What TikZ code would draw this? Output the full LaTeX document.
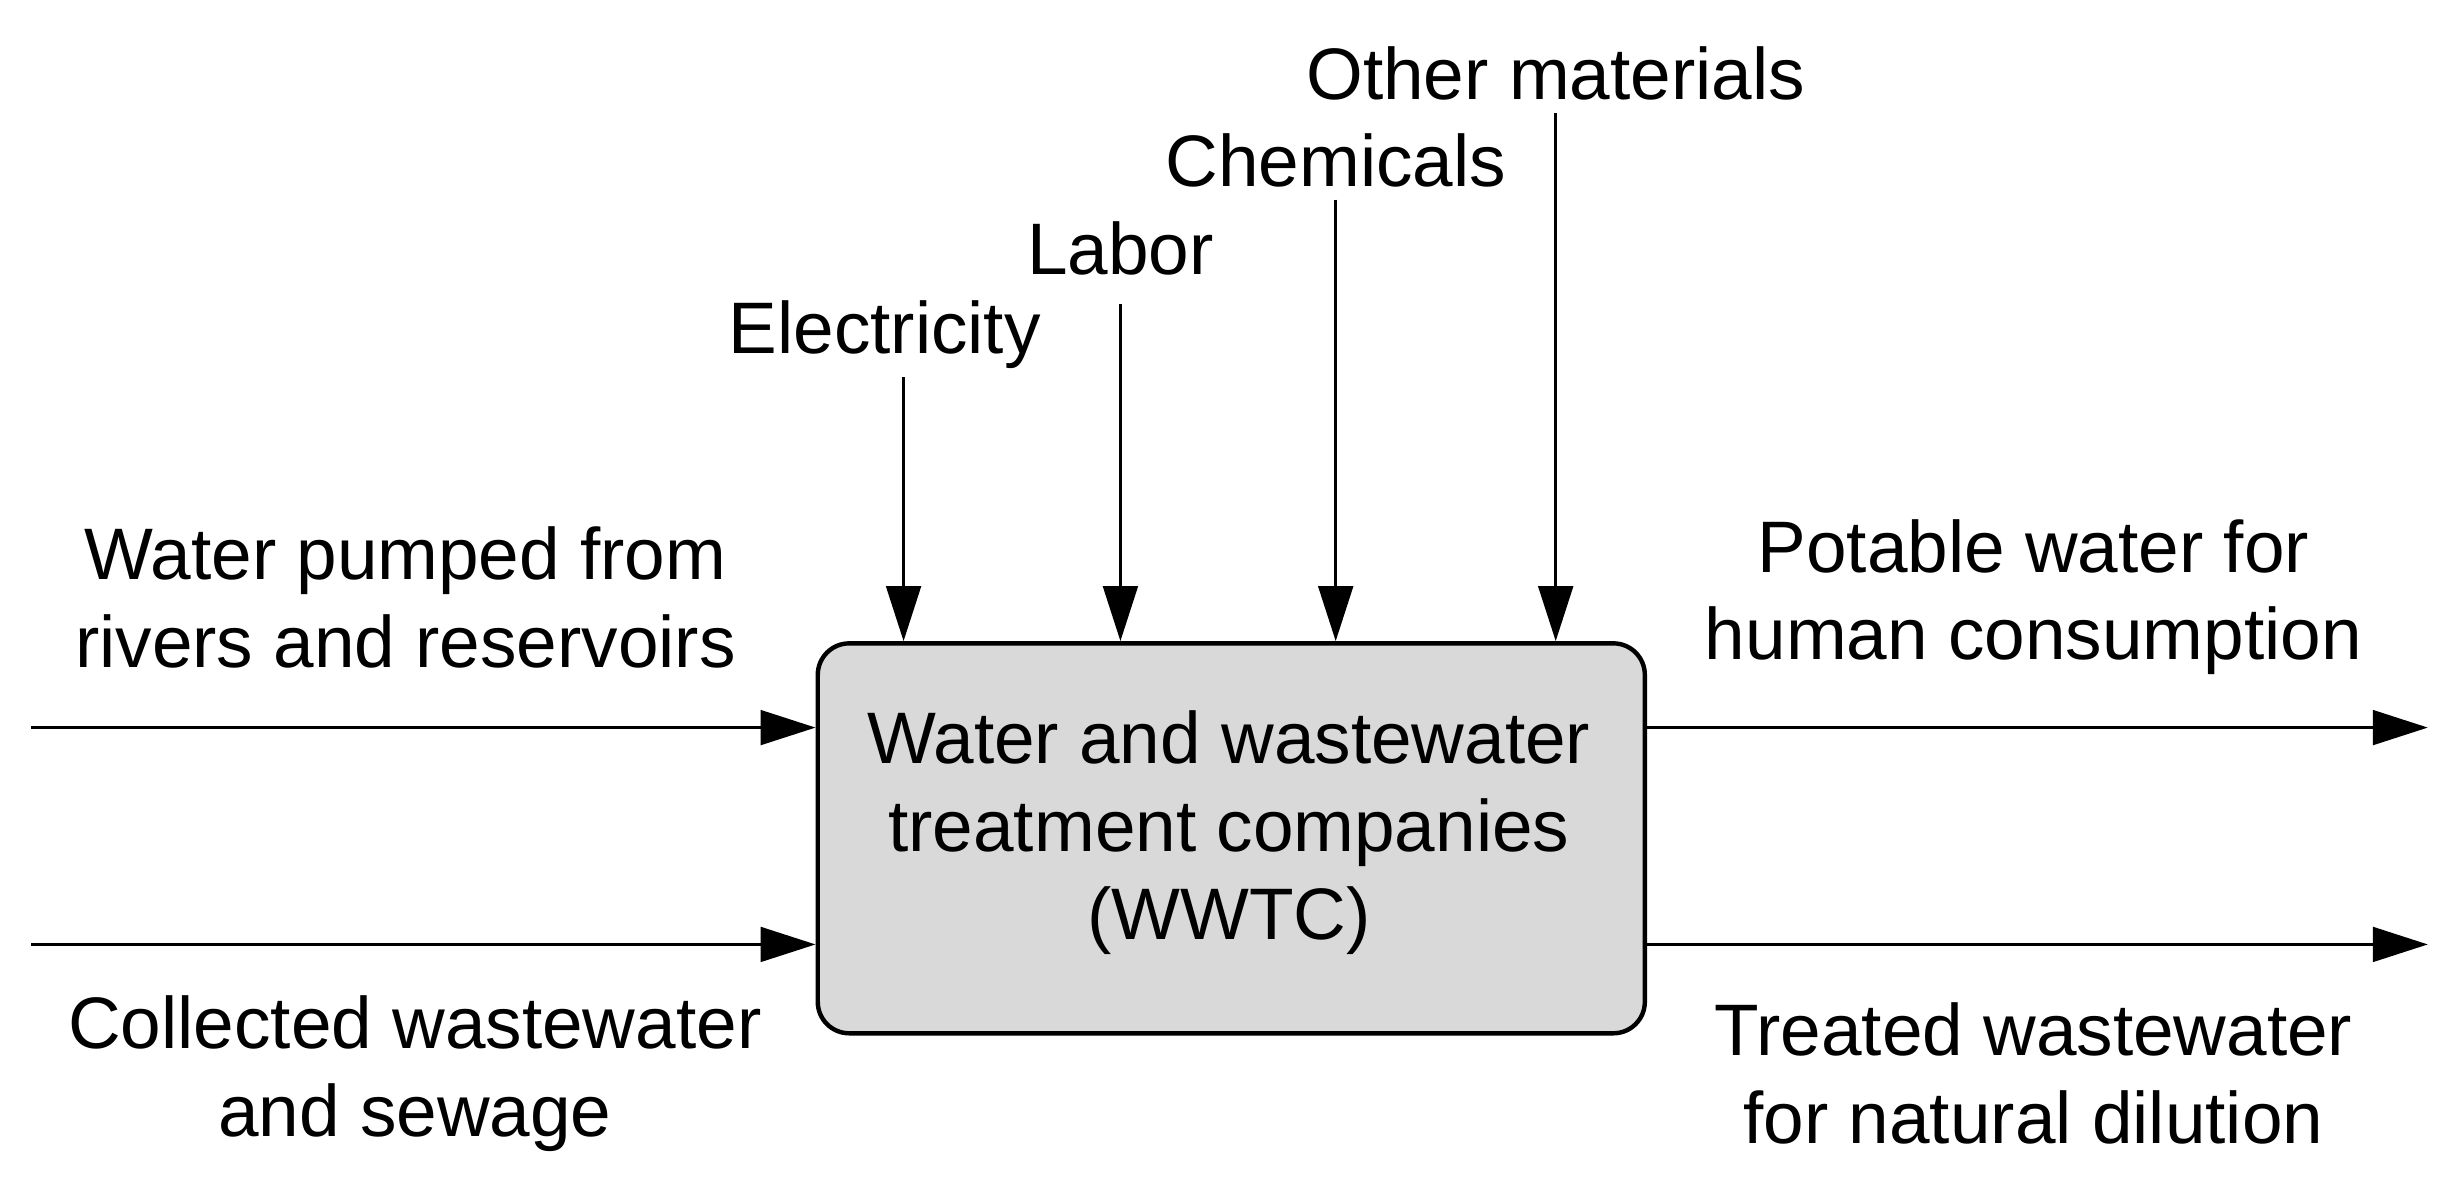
\documentclass[tikz,border=0pt]{standalone}
\usepackage{fontspec}
\setmainfont{Liberation Sans}
\usetikzlibrary{arrows.meta}
\begin{document}
\begin{tikzpicture}[x=0.01cm,y=-0.01cm,
  lbl/.style={font=\fontsize{13.2}{15.9}\selectfont,align=center,inner sep=0pt},
  arr/.style={line width=0.6pt,-{Triangle[length=0.35cm,width=0.22cm]}}]
\useasboundingbox (0,0) rectangle (1568,766);
\node[draw,line width=0.8pt,fill={rgb,255:red,217;green,217;blue,217},rounded corners=0.2cm,
  minimum width=5.26cm,minimum height=2.48cm,anchor=north west] (box) at (519,408) {};
\node[lbl] (bt) at (782,530) {Water and wastewater\\treatment companies\\(WWTC)};
\node[lbl] (l1) at (258,380) {Water pumped from\\rivers and reservoirs};
\node[lbl] (l2) at (264,683) {Collected wastewater\\and sewage};
\node[lbl] (r1) at (1294,380) {Potable water for\\human consumption};
\node[lbl] (r2) at (1294,683) {Treated wastewater\\for natural dilution};
\node[lbl] (e) at (563,213) {Electricity};
\node[lbl] (lab) at (713,158) {Labor};
\node[lbl] (c) at (850,102) {Chemicals};
\node[lbl] (o) at (990,47) {Other materials};
\coordinate (a1) at (20,463); \coordinate (a2) at (20,601);
\coordinate (b1) at (1545,463); \coordinate (b2) at (1545,601);
\draw[arr] (a1) -- (a1 -| box.west);
\draw[arr] (a2) -- (a2 -| box.west);
\draw[arr] (b1 -| box.east) -- (b1);
\draw[arr] (b2 -| box.east) -- (b2);
\draw[arr] (575,240) -- (575,408);
\draw[arr] (lab.south) ++(0,-0.18cm) -- (713,408);
\draw[arr] (850,127) -- (850,408);
\draw[arr] (990,72) -- (990,408);
\end{tikzpicture}
\end{document}
